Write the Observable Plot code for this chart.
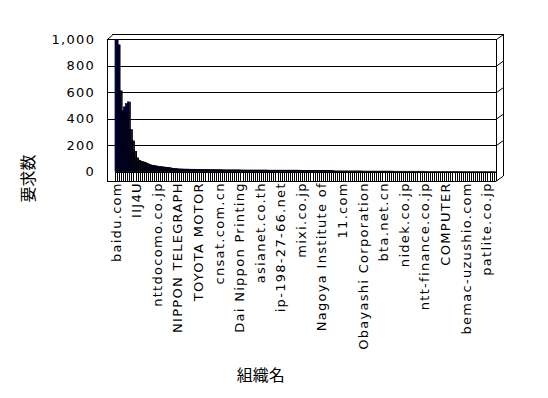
<!DOCTYPE html>
<html><head><meta charset="utf-8">
<script src="https://cdn.jsdelivr.net/npm/d3@7"></script>
<script src="https://cdn.jsdelivr.net/npm/@observablehq/plot@0.6"></script>
<style>
body{margin:0;background:#fff}
svg g[aria-label="x-axis tick label"] text, svg g[aria-label="y-axis tick label"] text {letter-spacing:1.3px}
</style></head><body>
<script>
// visible category labels (every 10th organisation)
const tickLabels = ["baidu.com","IIJ4U","nttdocomo.co.jp","NIPPON TELEGRAPH","TOYOTA MOTOR","cnsat.com.cn","Dai Nippon Printing","asianet.co.th","ip-198-27-66.net","mixi.co.jp","Nagoya Institute of","11.com","Obayashi Corporation","bta.net.cn","nidek.co.jp","ntt-finance.co.jp","COMPUTER","bemac-uzushio.com","patlite.co.jp"];
const labelEvery = 10;
// request counts per organisation (sorted)
const requests = [
 1000, 960, 612, 460, 490, 515, 528, 320, 234, 156,
 106, 88, 80, 76, 70, 63, 55, 51, 48, 45,
 42, 40, 38, 36, 35, 33, 30, 28, 26, 24,
 22, 21, 21, 20, 20, 20, 19, 19, 19, 18,
 18, 18, 17, 17, 17, 16, 16, 15, 15, 15,
 15, 15, 14, 14, 14, 14, 14, 14, 14, 14,
 14, 13, 13, 13, 13, 13, 13, 13, 13, 13,
 13, 13, 13, 13, 12, 12, 12, 12, 12, 12,
 12, 12, 12, 12, 12, 12, 12, 12, 12, 12,
 11, 11, 11, 11, 11, 11, 11, 11, 11, 11,
 11, 11, 11, 10, 10, 10, 6, 6, 6, 6,
 6, 6, 6, 6, 6, 6, 6, 6, 6, 6,
 5, 5, 5, 5, 5, 5, 5, 5, 5, 5,
 5, 5, 5, 5, 5, 4, 4, 4, 4, 4,
 4, 4, 4, 4, 4, 4, 4, 4, 4, 4,
 4, 3, 3, 3, 3, 3, 3, 3, 3, 3,
 3, 3, 3, 3, 3, 3, 3, 3, 2, 2,
 2, 2, 2, 2, 2, 2, 2, 2, 2, 2,
 2, 2, 2, 2, 2
];
const yTicks = [0, 200, 400, 600, 800, 1000];
const gridValues = [200, 400, 600, 800, 1000];
const xTitle = "組織名";
const yTitle = "要求数";

const N = requests.length;
const xLo = -4, xHi = N;          // front plane extent (category units)
const yLo = -68, yHi = 1000;      // floor below zero, top
const depX = 3.4, depY = 37.8;    // 3D depth offset of the frame in data units
const sideW = 0.72;               // visible side-face width of each column (category units)

const labelPos = tickLabels.map((_, k) => k * labelEvery + 0.5);

const crisp = {shapeRendering: "crispEdges"};
const chart = Plot.plot({
  width: 548, height: 398,
  marginTop: 39.3, marginBottom: 217.3, marginLeft: 106.7, marginRight: 52.3,
  style: {fontFamily: "DejaVu Sans", fontSize: "13px", background: "#fff", color: "#000"},
  x: {domain: [xLo, xHi], axis: null},
  y: {domain: [yLo, yHi], axis: null},
  marks: [
    // gridlines (front) and 3D stubs
    Plot.ruleY(gridValues, {x1: xLo, x2: xHi, stroke: "black", ...crisp}),
    Plot.link([...gridValues, yLo], {x1: xHi, y1: d => d, x2: xHi + depX, y2: d => d + depY, stroke: "black", strokeWidth: 1}),
    Plot.link([yHi], {x1: xLo, y1: d => d, x2: xLo + depX * 0.8, y2: d => d + depY, stroke: "black", strokeWidth: 1}),
    // back top and right edges
    Plot.ruleY([yHi + depY], {x1: xLo + depX * 0.8, x2: xHi + depX, stroke: "black", ...crisp}),
    Plot.ruleX([xHi + depX], {y1: yLo + depY, y2: yHi + depY, stroke: "black", ...crisp}),
    // front frame
    Plot.ruleX([xLo, xHi], {y1: yLo, y2: yHi, stroke: "black", ...crisp}),
    Plot.ruleY([yLo], {x1: xLo, x2: xHi, stroke: "black", ...crisp}),
    // category ticks on the floor
    Plot.ruleX(d3.range(N + 1), {y1: yLo, y2: -9, stroke: "black", ...crisp}),
    // column fronts (navy) and their dark side faces
    Plot.rect(requests, {x1: (d, i) => i, x2: (d, i) => i + 1, y1: 0, y2: d => d,
      fill: "#000080", stroke: "black", strokeWidth: 0.5}),
    Plot.rect(requests, {x1: (d, i) => i + 1, x2: (d, i) => i + 1 + sideW, y1: 0, y2: d => d,
      fill: "black"}),
    Plot.ruleY([0], {x1: 0, x2: xHi, stroke: "black", ...crisp}),
    // axes
    Plot.axisY(yTicks, {tickFormat: d3.format(","), tickSize: 0, tickPadding: 12, label: null, fontSize: 13}),
    Plot.axisX(labelPos, {tickFormat: d => tickLabels[Math.round((d - 0.5) / labelEvery)], tickRotate: -90,
      tickSize: 0, tickPadding: 1, label: null, fontSize: 13}),
    // titles
    Plot.text([xTitle], {text: d => d, frameAnchor: "bottom", textAnchor: "middle", lineAnchor: "middle",
      dx: -41, dy: 195, fontSize: 16, fontFamily: "Noto Sans CJK JP"}),
    Plot.text([yTitle], {text: d => d, frameAnchor: "left", textAnchor: "middle", lineAnchor: "middle", rotate: -90,
      dx: -78, dy: 68, fontSize: 16, fontFamily: "Noto Sans CJK JP"})
  ]
});
document.body.appendChild(chart);
</script>
</body></html>
